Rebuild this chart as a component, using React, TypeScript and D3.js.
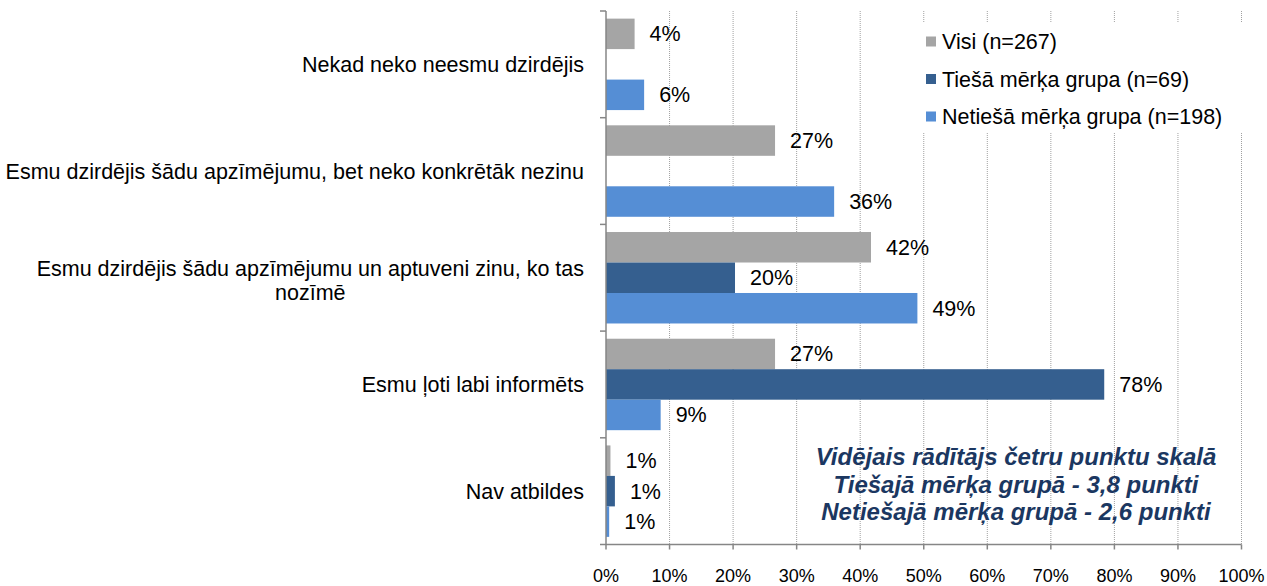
import React, { useLayoutEffect, useRef, useState } from 'react'
import * as d3 from 'd3'

const categories = [
  'Nekad neko neesmu dzirdējis',
  'Esmu dzirdējis šādu apzīmējumu, bet neko konkrētāk nezinu',
  'Esmu dzirdējis šādu apzīmējumu un aptuveni zinu, ko tas|nozīmē',
  'Esmu ļoti labi informēts',
  'Nav atbildes',
]
const seriesNames = ['Visi (n=267)', 'Tiešā mērķa grupa (n=69)', 'Netiešā mērķa grupa (n=198)']
const visi = [4.5, 26.6, 41.7, 26.6, 0.7]
const tiesa = [null, null, 20.3, 78.4, 1.4]
const netiesa = [6.0, 35.9, 49.0, 8.6, 0.5]
const visiLabels = ['4%', '27%', '42%', '27%', '1%']
const tiesaLabels = ['', '', '20%', '78%', '1%']
const netiesaLabels = ['6%', '36%', '49%', '9%', '1%']
const xTicks = [0, 10, 20, 30, 40, 50, 60, 70, 80, 90, 100]
const noteLines = [
  'Vidējais rādītājs četru punktu skalā',
  'Tiešajā mērķa grupā - 3,8 punkti',
  'Netiešajā mērķa grupā - 2,6 punkti',
]

const colors = ['#A5A5A5', '#355F8F', '#558ED5']
const font = '"Liberation Sans", Arial, sans-serif'

const App = () => {
  const W = 1267
  const H = 586
  const left = 606
  const right = 1241.5
  const top = 11
  const bottom = 544.5
  const labelRight = 584

  // width of first line of the wrapped label, so the second line can be centred under it
  const firstLine = useRef<SVGTSpanElement>(null)
  const [lineW, setLineW] = useState(544)
  useLayoutEffect(() => {
    if (firstLine.current) setLineW(firstLine.current.getComputedTextLength())
  }, [])

  const x = d3.scaleLinear().domain([0, 100]).range([left, right])
  const y0 = d3.scaleBand().domain(categories).range([top, bottom])
  const y1 = d3
    .scaleBand()
    .domain(seriesNames)
    .range([0, y0.bandwidth()])
    .paddingOuter(0.25)
  const values = [visi, tiesa, netiesa]
  const labels = [visiLabels, tiesaLabels, netiesaLabels]

  const boundaries = d3.range(categories.length + 1).map((i) => top + i * y0.step())

  return (
    <div style={{ position: 'absolute', left: 0, top: 0 }}>
      <svg width={W} height={H} style={{ display: 'block', fontFamily: font }}>
        <rect width={W} height={H} fill="#fff" />
        {/* gridlines */}
        {xTicks.slice(1).map((t) => (
          <line
            key={t}
            x1={x(t)}
            x2={x(t)}
            y1={top}
            y2={bottom}
            stroke="#A0A0A0"
            strokeDasharray="1,1"
          />
        ))}

        {/* legend box covers gridlines */}
        <rect x={912} y={22} width={340} height={111} fill="#fff" />
        {seriesNames.map((s, i) => (
          <g key={s} transform={`translate(926,${41.5 + i * 37.5})`}>
            <rect x={0} y={-5} width={10} height={10} fill={colors[i]} />
            <text x={16} y={0} dy="0.35em" fontSize={21.5} fill="#000">
              {s}
            </text>
          </g>
        ))}

        {/* bars */}
        {categories.map((c, ci) => (
          <g key={c} transform={`translate(0,${y0(c)})`}>
            {seriesNames.map((s, si) => {
              const v = values[si][ci]
              if (v === null) return null
              const yy = y1(s)!
              return (
                <g key={s}>
                  <rect
                    x={x(0)}
                    y={yy}
                    width={x(v) - x(0)}
                    height={y1.bandwidth()}
                    fill={colors[si]}
                  />
                  <text
                    x={x(v) + 15}
                    y={yy + y1.bandwidth() / 2}
                    dy="0.35em"
                    fontSize={21.5}
                    fill="#000"
                  >
                    {labels[si][ci]}
                  </text>
                </g>
              )
            })}
          </g>
        ))}

        {/* axes */}
        <line x1={left} x2={left} y1={top} y2={bottom} stroke="#868686" strokeWidth={1.5} />
        {boundaries.map((b, i) => (
          <line key={i} x1={left - 6} x2={left} y1={b} y2={b} stroke="#868686" strokeWidth={1.5} />
        ))}
        <line x1={left} x2={right} y1={bottom} y2={bottom} stroke="#868686" strokeWidth={1.5} />
        {xTicks.map((t) => (
          <g key={t}>
            <line x1={x(t)} x2={x(t)} y1={bottom} y2={bottom + 5} stroke="#868686" strokeWidth={1.5} />
            <text x={x(t)} y={575.5} textAnchor="middle" dy="0.35em" fontSize={18} fill="#000">
              {t}%
            </text>
          </g>
        ))}

        {/* category labels */}
        {categories.map((c) => {
          const lines = c.split('|')
          const cy = y0(c)! + y0.bandwidth() / 2
          if (lines.length === 1) {
            return (
              <text key={c} x={labelRight} y={cy} dy="0.35em" textAnchor="end" fontSize={21.5} fill="#000">
                {c}
              </text>
            )
          }
          return (
            <text key={c} fontSize={21.5} fill="#000">
              <tspan ref={firstLine} x={labelRight} y={cy - 9.5} dy="0.35em" textAnchor="end">
                {lines[0]}
              </tspan>
              <tspan x={labelRight - lineW / 2} y={cy + 15} dy="0.35em" textAnchor="middle">
                {lines[1]}
              </tspan>
            </text>
          )
        })}

        {/* note */}
        {noteLines.map((l, i) => (
          <text
            key={i}
            x={1016}
            y={457 + i * 27.5}
            dy="0.35em"
            textAnchor="middle"
            fontSize={24}
            fontWeight="bold"
            fontStyle="italic"
            fill="#1B3761"
          >
            {l}
          </text>
        ))}
      </svg>
    </div>
  )
}

export default App
